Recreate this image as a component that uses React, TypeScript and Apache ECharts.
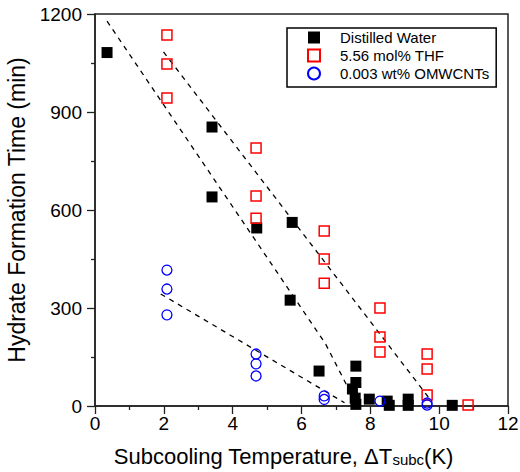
import React, { useEffect, useRef } from "react";
import * as echarts from "echarts";

const waterData: number[][] = [
  [0.35, 1082], [3.4, 854], [3.4, 640], [4.7, 545], [5.73, 562], [5.67, 324],
  [6.51, 107], [7.58, 122], [7.58, 72], [7.48, 52], [7.56, 24], [7.58, 5],
  [7.97, 21], [8.49, 15], [8.55, 2], [9.1, 21], [9.1, 2], [10.38, 2],
];
const thfData: number[][] = [
  [2.09, 1136], [2.09, 1047], [2.09, 943], [4.68, 790], [4.68, 643], [4.68, 575],
  [6.66, 536], [6.66, 450], [6.66, 376], [8.28, 300], [8.28, 211], [8.28, 165],
  [9.65, 159], [9.65, 113], [9.65, 34], [10.84, 3],
];
const cntData: number[][] = [
  [2.09, 416], [2.09, 358], [2.09, 279], [4.68, 159], [4.68, 129], [4.68, 92],
  [6.66, 31], [6.66, 20], [8.28, 15], [9.65, 9], [9.65, 3],
];
const waterFit: number[][] = [[0.35, 1178], [6.7, 190], [7.55, 15]];
const thfFit: number[][] = [[1.99, 1084], [9.79, 13]];
const cntFit: number[][] = [[1.91, 343], [7.25, 10]];

const seriesNames = ["Distilled Water", "5.56 mol% THF", "0.003 wt% OMWCNTs"];
const xTicks = { min: 0, max: 12, interval: 2 };
const yTicks = { min: 0, max: 1200, interval: 300 };

const FONT = "Liberation Sans, Arial, sans-serif";

export default function App() {
  const ref = useRef<HTMLDivElement>(null);
  useEffect(() => {
    if (!ref.current) return;
    const chart = echarts.init(ref.current, undefined, { renderer: "svg" });
    const fitLine = (data: number[][]) => ({
      type: "line",
      data,
      showSymbol: false,
      symbol: "none",
      silent: true,
      z: 1,
      lineStyle: { color: "#000", width: 1.3, type: [5, 5] },
    });
    chart.setOption({
      animation: false,
      backgroundColor: "#fff",
      textStyle: { fontFamily: FONT },
      grid: {
        left: 95, right: 12, top: 14, bottom: 66,
        outerBoundsMode: "none",
        containLabel: false,
        show: true, borderColor: "#222", borderWidth: 1.5,
      },
      legend: {
        data: seriesNames,
        left: 287, top: 28,
        orient: "vertical",
        padding: [2, 7, 6, 20],
        itemGap: 3,
        itemWidth: 12, itemHeight: 12,
        borderColor: "#000", borderWidth: 1.5,
        backgroundColor: "#fff",
        textStyle: { fontSize: 15, fontFamily: FONT, color: "#000", padding: [0, 0, 0, 15] },
      },
      xAxis: {
        type: "value",
        min: xTicks.min, max: xTicks.max, interval: xTicks.interval,
        name: "Subcooling Temperature, ΔT{sub|subc}(K)",
        nameLocation: "middle",
        nameGap: 39,
        nameTextStyle: {
          fontSize: 22, color: "#000", fontFamily: FONT,
          padding: [0, 36, 0, 0],
          rich: { sub: { fontSize: 15, fontFamily: FONT, color: "#000", verticalAlign: "bottom", padding: [7, 0, 0, 0] } },
        },
        axisLine: { lineStyle: { color: "#222", width: 1.5 } },
        axisTick: { show: true, inside: false, length: 8, lineStyle: { color: "#222", width: 1.3 } },
        minorTick: { show: true, splitNumber: 2, length: 4, lineStyle: { color: "#222", width: 1.3 } },
        axisLabel: { fontSize: 19, color: "#000", margin: 8, fontFamily: FONT },
        splitLine: { show: false },
      },
      yAxis: {
        type: "value",
        min: yTicks.min, max: yTicks.max, interval: yTicks.interval,
        name: "Hydrate Formation Time (min)",
        nameLocation: "middle",
        nameGap: 63,
        nameTextStyle: { fontSize: 23, color: "#000", fontFamily: FONT },
        axisLine: { lineStyle: { color: "#222", width: 1.5 } },
        axisTick: { show: true, inside: false, length: 8, lineStyle: { color: "#222", width: 1.3 } },
        minorTick: { show: true, splitNumber: 2, length: 4, lineStyle: { color: "#222", width: 1.3 } },
        axisLabel: { fontSize: 19, color: "#000", margin: 13, fontFamily: FONT, formatter: (v: number) => String(v) },
        splitLine: { show: false },
      },
      series: [
        fitLine(waterFit),
        fitLine(thfFit),
        fitLine(cntFit),
        {
          name: seriesNames[0], type: "scatter", data: waterData, symbol: "rect", symbolSize: 11, z: 3,
          itemStyle: { color: "#000", opacity: 1 },
        },
        {
          name: seriesNames[1], type: "scatter", data: thfData, symbol: "rect", symbolSize: 10, z: 4,
          itemStyle: { color: "rgba(255,255,255,0)", borderColor: "#ff0000", borderWidth: 1.5, opacity: 1 },
        },
        {
          name: seriesNames[2], type: "scatter", data: cntData, symbol: "circle", symbolSize: 10, z: 5,
          itemStyle: { color: "rgba(255,255,255,0)", borderColor: "#0000ff", borderWidth: 1.3, opacity: 1 },
        },
      ],
    });
    return () => chart.dispose();
  }, []);
  return <div ref={ref} style={{ position: "fixed", left: 0, top: 0, width: 520, height: 472 }} />;
}
